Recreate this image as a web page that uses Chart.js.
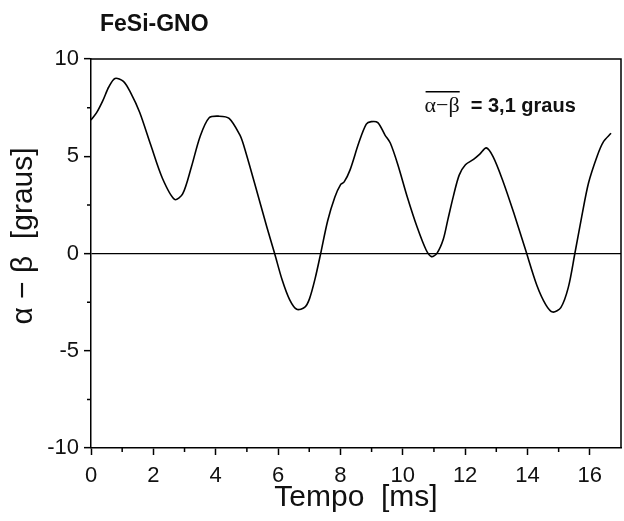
<!DOCTYPE html>
<html>
<head>
<meta charset="utf-8">
<script src="https://cdn.jsdelivr.net/npm/chart.js@4.4.0/dist/chart.umd.min.js"></script>
<style>
    html, body { margin: 0; padding: 0; background: #fff; }
    #wrap { width: 624px; height: 521px; }
</style>
</head>
<body>
<div id="wrap"><canvas id="chart"></canvas></div>
<script>
// tempo em ms e alfa - beta em graus
var tempo = [
    0, 0.18, 0.38, 0.57, 0.77, 1.04, 1.27, 1.56, 1.92, 2.29,
    2.68, 2.94, 3.22, 3.5, 3.79, 4.11, 4.43, 4.77, 4.89, 5.25,
    5.64, 5.89, 6.13, 6.37, 6.6, 6.86, 7.01, 7.19, 7.37, 7.59,
    7.82, 8.01, 8.12, 8.31, 8.59, 8.83, 8.99, 9.2, 9.43, 9.6,
    9.84, 10.15, 10.46, 10.75, 10.92, 11.1, 11.3, 11.45, 11.63, 11.81,
    12.01, 12.27, 12.47, 12.68, 12.9, 13.2, 13.56, 13.93, 14.3, 14.59,
    14.81, 15.07, 15.31, 15.52, 15.74, 15.96, 16.24, 16.43, 16.68
];
var alfaBeta = [
    6.86, 7.24, 7.86, 8.56, 9.0, 8.85, 8.27, 7.26, 5.56, 3.87,
    2.78, 3.06, 4.45, 6.02, 6.98, 7.06, 6.95, 6.11, 5.6, 3.6,
    1.36, 0.0, -1.35, -2.37, -2.87, -2.76, -2.32, -1.28, 0.02, 1.67,
    2.89, 3.55, 3.68, 4.3, 5.69, 6.65, 6.78, 6.73, 6.09, 5.68,
    4.58, 2.88, 1.36, 0.18, -0.16, 0.02, 0.73, 1.77, 2.99, 4.03,
    4.56, 4.84, 5.11, 5.43, 4.97, 3.78, 2.09, 0.23, -1.63, -2.64,
    -3.01, -2.78, -1.74, 0.0, 1.9, 3.64, 5.03, 5.73, 6.18
];
var xTicks = [0, 2, 4, 6, 8, 10, 12, 14, 16];
var yTicks = [-10, -5, 0, 5, 10];
var xMinor = [1, 3, 5, 7, 9, 11, 13, 15];
var yMinor = [-7.5, -2.5, 2.5, 7.5];

var pontos = tempo.map(function (t, i) {
    return { x: t, y: alfaBeta[i] };
});

// moldura, marcas menores, titulos e anotacao
var moldura = {
    id: "moldura",
    afterDraw: function (chart) {
        var ctx = chart.ctx;
        var a = chart.chartArea;
        var sx = chart.scales.x;
        var sy = chart.scales.y;
        ctx.save();
        ctx.strokeStyle = "#000";
        ctx.lineWidth = 1.5;
        ctx.beginPath();
        ctx.moveTo(a.left, a.top);
        ctx.lineTo(a.right, a.top);
        ctx.lineTo(a.right, a.bottom);
        xMinor.forEach(function (v) {
            var px = sx.getPixelForValue(v);
            ctx.moveTo(px, a.bottom);
            ctx.lineTo(px, a.bottom + 4);
        });
        yMinor.forEach(function (v) {
            var py = sy.getPixelForValue(v);
            ctx.moveTo(a.left, py);
            ctx.lineTo(a.left - 4, py);
        });
        ctx.stroke();

        ctx.fillStyle = "#111";
        ctx.textBaseline = "alphabetic";
        ctx.font = 'bold 23px "Liberation Sans"';
        ctx.fillText("FeSi-GNO", a.left + 9, 31);

        // titulo do eixo y
        ctx.save();
        ctx.translate(24, 236);
        ctx.rotate(-Math.PI / 2);
        ctx.textAlign = "center";
        ctx.textBaseline = "middle";
        ctx.font = '30px "Liberation Sans"';
        ctx.fillText("α − β  [graus]", 0, 0);
        ctx.restore();

        var ax = sx.getPixelForValue(10.7);
        var ay = sy.getPixelForValue(7.7) + 8;
        ctx.font = '22px "Liberation Serif"';
        var g = "α−β";
        var wg = ctx.measureText(g).width;
        ctx.fillText(g, ax, ay);
        ctx.beginPath();
        ctx.lineWidth = 1.3;
        ctx.moveTo(ax + 1, ay - 20);
        ctx.lineTo(ax + wg, ay - 20);
        ctx.stroke();
        ctx.font = 'bold 20px "Liberation Sans"';
        ctx.fillText("= 3,1 graus", ax + wg + 11, ay);
        ctx.restore();
    }
};

var ctx = document.getElementById("chart");
var grafico = new Chart(ctx, {
    type: "line",
    data: {
        datasets: [
            {
                data: pontos,
                borderColor: "#000",
                borderWidth: 1.6,
                pointRadius: 0,
                fill: false,
                tension: 0.3,
            },
        ],
    },
    options: {
        responsive: true,
        maintainAspectRatio: false,
        animation: false,
        layout: {
            padding: { top: 59, right: 3, left: 0, bottom: 0 },
        },
        plugins: {
            legend: { display: false },
            tooltip: { enabled: false },
        },
        scales: {
            x: {
                type: "linear",
                min: 0,
                max: 17,
                afterBuildTicks: function (s) {
                    s.ticks = xTicks.map(function (v) { return { value: v }; });
                },
                afterFit: function (s) { s.height = 73; },
                grid: {
                    drawOnChartArea: false,
                    tickLength: 7,
                    tickColor: "#000",
                    tickWidth: 1.5,
                },
                border: { display: true, color: "#000", width: 1.5 },
                ticks: {
                    color: "#111",
                    font: { family: "Liberation Sans", size: 22 },
                    padding: 8,
                    maxRotation: 0,
                    autoSkip: false,
                },
                title: {
                    display: true,
                    text: "Tempo  [ms]",
                    color: "#111",
                    font: { family: "Liberation Sans", size: 30 },
                    padding: { top: 5, bottom: 5 },
                },
            },
            y: {
                min: -10,
                max: 10,
                afterBuildTicks: function (s) {
                    s.ticks = yTicks.map(function (v) { return { value: v }; });
                },
                afterFit: function (s) { s.width = 91; },
                grid: {
                    color: function (c) {
                        return c.tick && c.tick.value === 0 ? "#000" : "rgba(0,0,0,0)";
                    },
                    lineWidth: 1.3,
                    tickLength: 7,
                    tickColor: "#000",
                    tickWidth: 1.5,
                },
                border: { display: true, color: "#000", width: 1.5 },
                ticks: {
                    color: "#111",
                    font: { family: "Liberation Sans", size: 22 },
                    padding: 5,
                },
            },
        },
    },
    plugins: [moldura],
});
</script>
</body>
</html>
